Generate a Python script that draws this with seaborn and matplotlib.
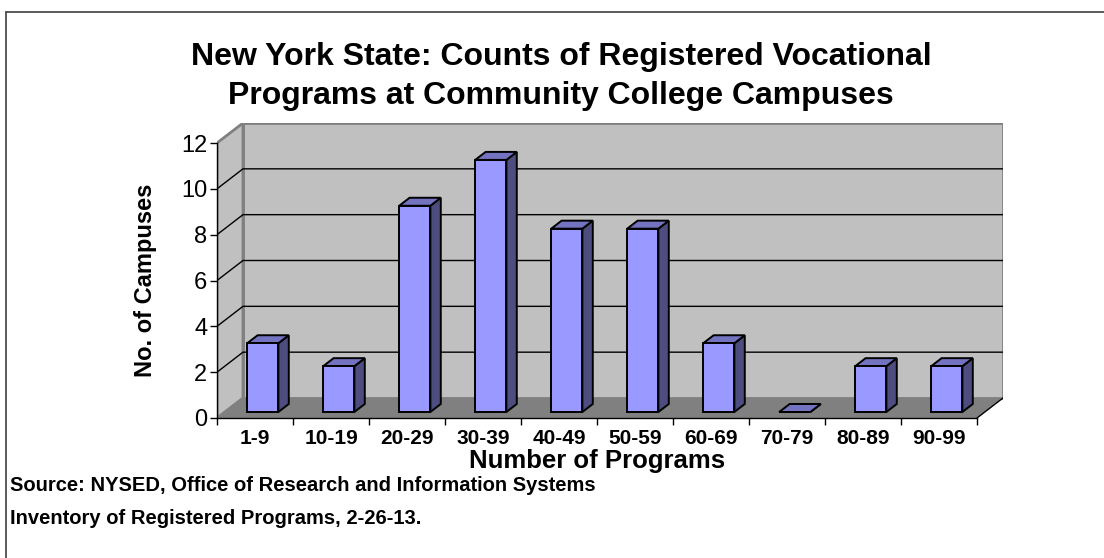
import matplotlib
matplotlib.use("Agg")
import matplotlib.pyplot as plt
from matplotlib.patches import Polygon
from matplotlib.lines import Line2D
import numpy as np
import pandas as pd
import seaborn as sns

# data
categories = ["1-9", "10-19", "20-29", "30-39", "40-49", "50-59", "60-69", "70-79", "80-89", "90-99"]
campuses = [3, 2, 9, 11, 8, 8, 3, 0, 2, 2]
y_ticks = [0, 2, 4, 6, 8, 10, 12]

title = "New York State: Counts of Registered Vocational\nPrograms at Community College Campuses"
x_label = "Number of Programs"
y_label = "No. of Campuses"
source_lines = ["Source: NYSED, Office of Research and Information Systems",
                "Inventory of Registered Programs, 2-26-13."]

W, H = 1104, 558
sns.set_theme(style="white")
plt.rcParams["font.family"] = ["Liberation Sans", "DejaVu Sans"]
plt.rcParams.update({"text.color": "black", "axes.labelcolor": "black",
                     "xtick.color": "black", "ytick.color": "black"})

fig = plt.figure(figsize=(W / 100, H / 100), dpi=100)
fig.patch.set_facecolor("white")
ax = fig.add_axes([217 / W, 1 - 418 / H, 786 / W, 295 / H])
ax.set_facecolor("none")

df = pd.DataFrame({"range": categories, "count": campuses})
sns.barplot(data=df, x="range", y="count", color="#9999FF", saturation=1,
            width=0.41, edgecolor="black", linewidth=1.4, ax=ax, zorder=6)
bars = list(ax.patches)

n = len(categories)
ymax = y_ticks[-1]
dx = 26 / 76              # depth of the 3d box, category units
dy = 20 / (275 / ymax)    # depth of the 3d box, value units
x0, x1 = -0.5, n - 0.5

ax.set_xlim(x0, x1 + dx)
ax.set_ylim(0, ymax + dy)

# walls and floor
ax.add_patch(Polygon([(x0 + dx, dy), (x1 + dx, dy), (x1 + dx, ymax + dy), (x0 + dx, ymax + dy)],
                     closed=True, fc="#C0C0C0", ec="#808080", lw=2, zorder=0))
ax.add_patch(Polygon([(x0, 0), (x0 + dx, dy), (x0 + dx, ymax + dy), (x0, ymax)],
                     closed=True, fc="#C0C0C0", ec="#808080", lw=2, zorder=0))
ax.add_patch(Polygon([(x0, 0), (x1, 0), (x1 + dx, dy), (x0 + dx, dy)],
                     closed=True, fc="#808080", ec="none", zorder=1))
ax.plot([x1, x1 + dx], [0, dy], color="black", lw=1, zorder=2)

# gridlines on side wall and back wall
for v in y_ticks[1:-1]:
    ax.plot([x0, x0 + dx, x1 + dx], [v, v + dy, v + dy], color="black", lw=1, zorder=2)

# give the bars a depth
for bar in bars:
    bx, bw, h = bar.get_x(), bar.get_width(), bar.get_height()
    fx, fy = bx + 0.3 * dx, 0.3 * dy
    bar.set_x(fx)
    bar.set_y(fy)
    ddx, ddy = 0.4 * dx, 0.4 * dy
    ax.add_patch(Polygon([(fx + bw, fy), (fx + bw + ddx, fy + ddy), (fx + bw + ddx, fy + h + ddy), (fx + bw, fy + h)],
                         closed=True, fc="#4D4D80", ec="black", lw=1.4, zorder=5))
    ax.add_patch(Polygon([(fx, fy + h), (fx + bw, fy + h), (fx + bw + ddx, fy + h + ddy), (fx + ddx, fy + h + ddy)],
                         closed=True, fc="#7373BF", ec="black", lw=1.4, zorder=5))

# axes lines
for s in ["top", "right"]:
    ax.spines[s].set_visible(False)
ax.spines["left"].set_bounds(0, ymax)
ax.spines["bottom"].set_bounds(x0, x1)
for s in ["left", "bottom"]:
    ax.spines[s].set_color("black")
    ax.spines[s].set_linewidth(1)

ax.set_yticks(y_ticks)
ax.tick_params(axis="y", left=True, length=5, width=1, color="black", labelsize=17, pad=2)
ax.set_xticks(range(n))
ax.set_xticklabels(categories, fontweight="bold")
ax.tick_params(axis="x", which="major", bottom=True, length=0, labelsize=15, pad=8)
ax.set_xticks(np.arange(x0, x1 + 0.01, 1), minor=True)
ax.tick_params(axis="x", which="minor", bottom=True, length=5, width=1, color="black")

ax.set_xlabel(x_label, fontsize=18.5, fontweight="bold")
ax.xaxis.set_label_coords(((x0 + x1) / 2 - x0) / (x1 + dx - x0), -0.105)
ax.set_ylabel(y_label, fontsize=17, fontweight="bold")
ax.yaxis.set_label_coords(-0.076, 0.468)

fig.text(561 / W, 1 - 104 / H, title, ha="center", va="baseline", fontsize=23,
         fontweight="bold", linespacing=1.41)
fig.text(10 / W, 1 - 491 / H, source_lines[0], fontsize=14.5, fontweight="bold", va="baseline")
fig.text(10 / W, 1 - 524 / H, source_lines[1], fontsize=14.5, fontweight="bold", va="baseline")

# chart border
fig.add_artist(Line2D([6 / W, 1], [1 - 12 / H, 1 - 12 / H], color="#404040", lw=1.2, transform=fig.transFigure))
fig.add_artist(Line2D([6 / W, 6 / W], [0, 1 - 12 / H], color="#404040", lw=1.2, transform=fig.transFigure))

fig.savefig("out.png", dpi=100)
